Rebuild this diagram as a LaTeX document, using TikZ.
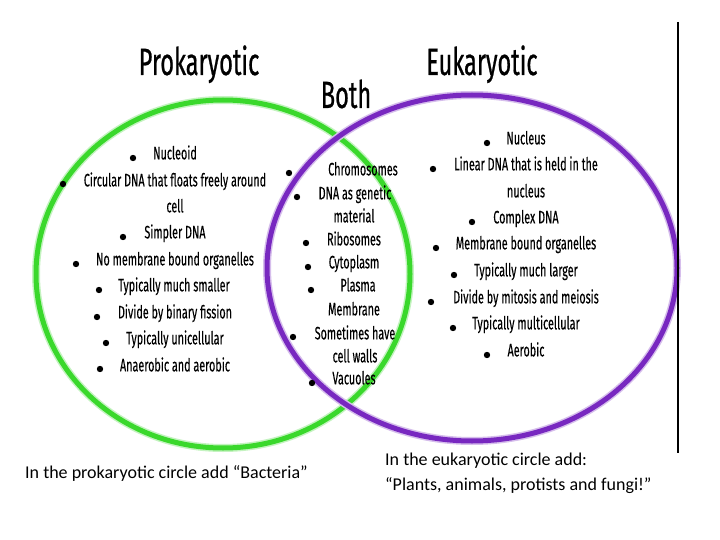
\documentclass[tikz,border=0pt]{standalone}
\usepackage{fontspec}
\setmainfont{Carlito}
\newfontfamily\itemfont[FakeStretch=0.6,FakeBold=0.25]{Fira Sans}
\newfontfamily\headfont[FakeStretch=0.62,FakeBold=0.6]{Fira Sans}
\usepackage{xcolor}
\usepackage{tikz}
\definecolor{prokgreen}{RGB}{58,216,44}
\definecolor{eukpurple}{RGB}{120,40,192}

\begin{document}
\begin{tikzpicture}[x=1pt,y=-1pt,every node/.style={inner sep=0pt},
  title/.style={font=\headfont\fontsize{38}{42}\selectfont,anchor=base},
  item/.style={font=\itemfont\fontsize{18}{20}\selectfont,anchor=mid},
  note/.style={font=\fontsize{18}{21}\selectfont,anchor=base west}]
\useasboundingbox[fill=white] (0,0) rectangle (720,540);
% the two circles
\draw[prokgreen!30,line width=8] (223,274) ellipse [x radius=187,y radius=174];
\draw[prokgreen,line width=5] (223,274) ellipse [x radius=187,y radius=174];
\draw[eukpurple!30,line width=8] (472,268) ellipse [x radius=205,y radius=173];
\draw[eukpurple,line width=5] (472,268) ellipse [x radius=205,y radius=173];
\draw[line width=1.2] (678,22) -- (678,453);
% headings
\node[title] (titlePro) at (199,75) {Prokaryotic};
\node[title] (titleBoth) at (346,108) {Both};
\node[title] (titleEuk) at (482,75) {Eukaryotic};
% prokaryotic
\node[item] (pro1) at (175,157) {Nucleoid};
\node[item] (pro2) at (175,184) {Circular DNA that floats freely around};
\node[item] (pro2b) at (175,210) {cell};
\node[item] (pro3) at (175,236) {Simpler DNA};
\node[item] (pro4) at (175,263) {No membrane bound organelles};
\node[item] (pro5) at (174,289) {Typically much smaller};
\node[item] (pro6) at (175,316) {Divide by binary fission};
\node[item] (pro7) at (175,342) {Typically unicellular};
\node[item] (pro8) at (175,369) {Anaerobic and aerobic};
\fill (133,158) circle (3.2) (63,184) circle (3.2) (123,237) circle (3.2)
  (76,264) circle (3.2) (99,290) circle (3.2) (97,317) circle (3.2)
  (106,343) circle (3.2) (100,369) circle (3.2);
% both
\node[item] (both1) at (363,173) {Chromosomes};
\node[item] (both2) at (355,197) {DNA as genetic};
\node[item] (both2b) at (354,220) {material};
\node[item] (both3) at (354,243) {Ribosomes};
\node[item] (both4) at (354,266) {Cytoplasm};
\node[item] (both5) at (358,289) {Plasma};
\node[item] (both5b) at (354,313) {Membrane};
\node[item] (both6) at (355,337) {Sometimes have};
\node[item] (both6b) at (355,360) {cell walls};
\node[item] (both7) at (354,382) {Vacuoles};
\fill (289,173) circle (3.2) (297,197) circle (3.2) (306,243) circle (3.2)
  (308,267) circle (3.2) (311,290) circle (3.2) (293,337) circle (3.2)
  (312,383) circle (3.2);
% eukaryotic
\node[item] (euk1) at (526,142) {Nucleus};
\node[item] (euk2) at (526,168) {Linear DNA that is held in the};
\node[item] (euk2b) at (526,195) {nucleus};
\node[item] (euk3) at (526,221) {Complex DNA};
\node[item] (euk4) at (526,247) {Membrane bound organelles};
\node[item] (euk5) at (526,274) {Typically much larger};
\node[item] (euk6) at (526,301) {Divide by mitosis and meiosis};
\node[item] (euk7) at (526,327) {Typically multicellular};
\node[item] (euk8) at (526,354) {Aerobic};
\fill (487,143) circle (3.2) (433,169) circle (3.2) (472,222) circle (3.2)
  (436,248) circle (3.2) (454,275) circle (3.2) (431,302) circle (3.2)
  (453,328) circle (3.2) (487,355) circle (3.2);
% notes below
\node[note] (notePro) at (25,478) {In the prokaryotic circle add “Bacteria”};
\node[note] (noteEuk) at (385,465) {In the eukaryotic circle add:};
\node[note] (noteEukb) at (385,490) {“Plants, animals, protists and fungi!”};
\end{tikzpicture}
\end{document}
